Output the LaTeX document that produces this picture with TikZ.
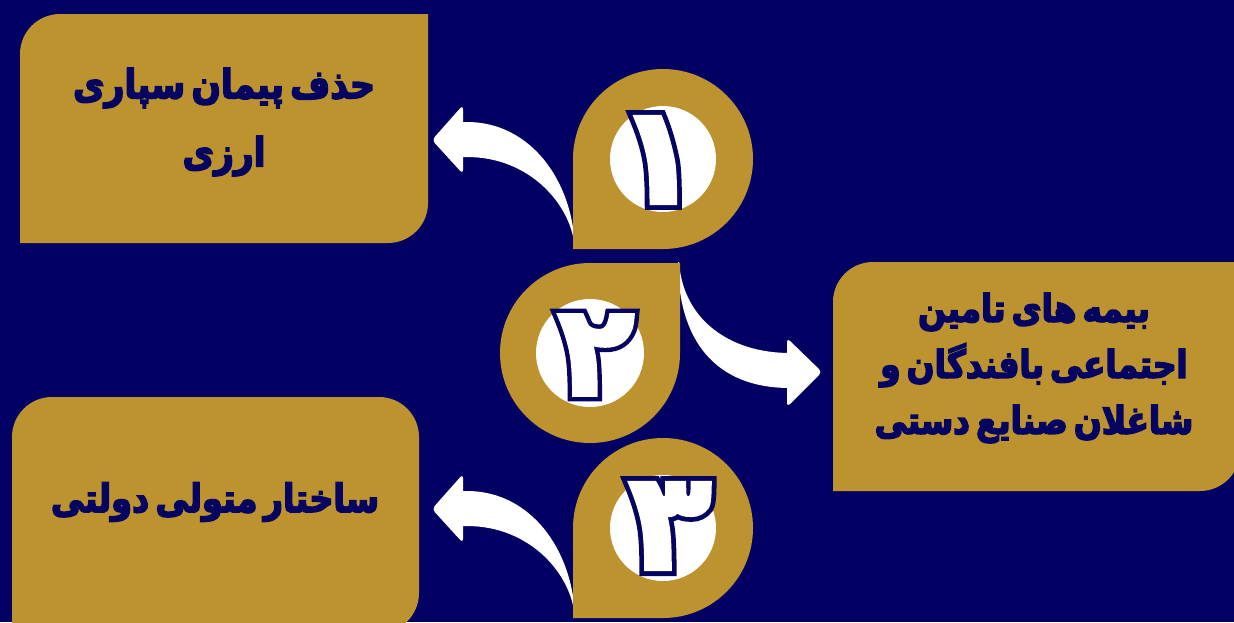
\documentclass[tikz,border=0pt]{standalone}
\usepackage{fontspec}
\TeXXeTstate=1
\newfontfamily\fa[Script=Arabic,FakeBold=3]{DejaVu Sans Bold}
\newfontfamily\fatext[Script=Arabic,FakeBold=4,FakeStretch=0.86]{DejaVu Sans Bold}
\newfontfamily\faout[Script=Arabic,FakeBold=10]{DejaVu Sans Bold}
\definecolor{navy}{RGB}{3,0,99}
\definecolor{gold}{RGB}{189,147,48}
\definecolor{ink}{RGB}{5,4,96}
\newcommand\tightspace{\spaceskip=0.16em\relax}
\tikzset{
  boxtext/.style={text=ink, align=center, inner sep=0pt},
  digitnode/.style={inner sep=0pt, font=\fontsize{136}{136}\selectfont},
  goldshape/.style={fill=gold},
  arrowshape/.style={fill=white},
  headshape/.style={fill=white, rounded corners=4pt},
}
\newcommand\faline[1]{\beginR #1\endR}
\begin{document}
\begin{tikzpicture}[x=1pt,y=-1pt]
\useasboundingbox (0,0) rectangle (1234,622);
\fill[navy] (0,0) rectangle (1234,622);
\begin{scope}
\clip (0,0) rectangle (1234,622);
% boxes
\fill[goldshape, rounded corners=40pt] (20,14) rectangle (428,243);
\fill[goldshape] (388,14) rectangle (428,54) (20,203) rectangle (60,243);
\fill[goldshape, rounded corners=40pt] (833,262) rectangle (1240,491);
\fill[goldshape] (1190,262) rectangle (1240,302) (833,451) rectangle (873,491);
\fill[goldshape, rounded corners=40pt] (12,397) rectangle (419,633);
\fill[goldshape] (12,593) rectangle (52,633);
% arrows 1 and 3
\foreach \dy in {0,369} {
  \fill[arrowshape] (575,249+\dy) .. controls (573,180+\dy) and (530,122+\dy) .. (467,122+\dy)
     -- (460,122+\dy) -- (460,157+\dy) -- (467,157+\dy)
     .. controls (530,157+\dy) and (572,205+\dy) .. (575,249+\dy) -- cycle;
  \fill[headshape] (463,105+\dy) -- (432,140+\dy) -- (463,174+\dy) -- cycle;
}
% arrow 2
\fill[arrowshape] (679,262) .. controls (683,320) and (730,353) .. (790,353)
   -- (790,388) .. controls (715,388) and (678,340) .. (678,262) -- cycle;
\fill[headshape] (787,338) -- (822,372) -- (787,407) -- cycle;
% teardrops
\coordinate (c1) at (663,159);
\coordinate (c2) at (590,353);
\coordinate (c3) at (663,528);
\fill[goldshape] (c1) circle[radius=90] (c1) rectangle (573,249);
\fill[goldshape] (c2) circle[radius=90] (c2) rectangle (680,263);
\fill[goldshape] (c3) circle[radius=90] (c3) rectangle (573,618);
\fill[white] (c1) circle[radius=53] (c2) circle[radius=54] (c3) circle[radius=53];
% digits
\node[digitnode] (d1) at (658,160) {\makebox[0pt]{\color{ink}\faout ۱}\makebox[0pt]{\color{white}\fa ۱}};
\node[digitnode, font=\fontsize{126}{126}\selectfont] (d2) at (596,355) {\makebox[0pt]{\color{ink}\faout ۲}\makebox[0pt]{\color{white}\fa ۲}};
\node[digitnode] (d3) at (670,526) {\makebox[0pt]{\color{ink}\faout ۳}\makebox[0pt]{\color{white}\fa ۳}};
% texts
\node[boxtext, font=\fatext\fontsize{40}{68}\selectfont\tightspace] (t1) at (224,122)
  {\faline{حذف پیمان سپاری}\\\faline{ارزی}};
\node[boxtext, font=\fatext\fontsize{38}{56}\selectfont\tightspace] (t2) at (1034,368)
  {\faline{بیمه های تامین}\\\faline{اجتماعی بافندگان و}\\\faline{شاغلان صنایع دستی}};
\node[boxtext, font=\fatext\fontsize{39}{40}\selectfont\tightspace] (t3) at (215,502)
  {\faline{ساختار متولی دولتی}};
\end{scope}
\end{tikzpicture}
\end{document}
